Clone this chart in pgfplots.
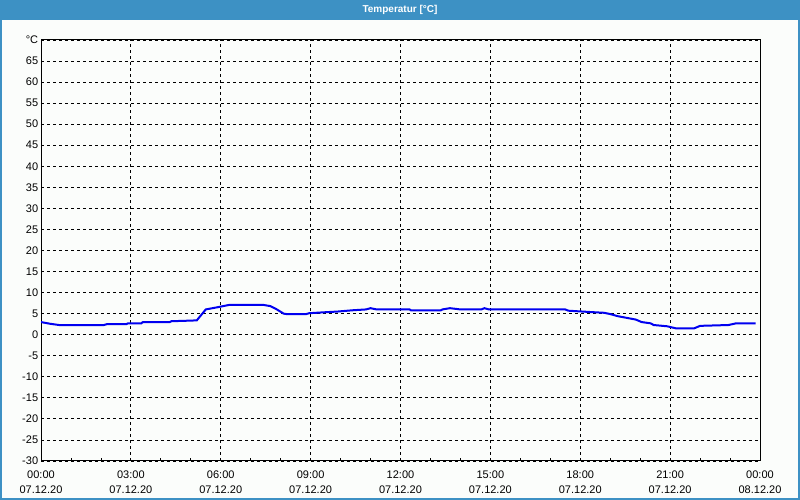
\documentclass[border=0pt]{standalone}
\usepackage{fontspec}
\setmainfont{Liberation Sans}
\usepackage{pgfplots}
\pgfplotsset{compat=1.18}
\definecolor{barblue}{RGB}{61,145,196}
\definecolor{bgc}{RGB}{251,253,251}
\definecolor{lineblue}{RGB}{0,0,240}
\begin{document}
\fontsize{11pt}{13pt}\selectfont
\begin{tikzpicture}[x=1pt,y=1pt]
\useasboundingbox (0,0) rectangle (800,500);
\fill[bgc] (0,0) rectangle (800,500);
\fill[barblue] (0,480) rectangle (800,500);
\draw[barblue,line width=2pt] (1,1) rectangle (799,499);
\node[white,font=\fontsize{10pt}{11pt}\selectfont\bfseries] at (400,490) {Temperatur [°C]};
\begin{axis}[
  at={(41pt,39pt)}, anchor=south west,
  scale only axis, width=719pt, height=421pt,
  xmin=0, xmax=24, ymin=-30, ymax=70,
  xtick={0,3,...,24},
  xticklabels={{00:00\\07.12.20},{03:00\\07.12.20},{06:00\\07.12.20},{09:00\\07.12.20},{12:00\\07.12.20},{15:00\\07.12.20},{18:00\\07.12.20},{21:00\\07.12.20},{00:00\\08.12.20}},
  xticklabel style={align=center, font=\fontsize{11pt}{15pt}\selectfont, yshift=-6pt},
  minor x tick num=2,
  xtick pos=bottom,
  tick align=inside,
  major tick length=0pt,
  minor tick length=3pt,
  ytick={-30,-25,...,70},
  yticklabels={-30,-25,-20,-15,-10,-5,0,5,10,15,20,25,30,35,40,45,50,55,60,65,°C},
  ytick pos=left,
  yticklabel style={xshift=1pt, font=\fontsize{11pt}{13pt}\selectfont},
  grid=major,
  major grid style={black, line width=0.8pt, dash pattern=on 3pt off 3pt},
  axis line style={black, line width=1pt},
  every tick/.style={black, line width=0.8pt},
  axis background/.style={fill=bgc},
]
\addplot[lineblue, line width=2pt] coordinates {
(0,3.0) (0.3,2.6) (0.6,2.3) (2.1,2.3) (2.2,2.5) (2.85,2.5) (2.9,2.7) (3.35,2.7) (3.4,3.0) (4.3,3.0) (4.35,3.2) (4.8,3.3) (5.2,3.4) (5.5,6.0) (5.95,6.6) (6.3,7.1) (7.4,7.1) (7.65,6.8) (7.85,6.1) (8.1,5.0) (8.2,4.9) (8.85,4.9) (8.95,5.1) (9.4,5.3) (9.9,5.5) (10.4,5.8) (10.85,6.0) (11.0,6.3) (11.2,6.0) (12.3,6.0) (12.35,5.8) (13.35,5.8) (13.4,6.0) (13.65,6.3) (14.0,6.0) (14.7,6.0) (14.8,6.3) (14.95,6.0) (17.5,6.0) (17.6,5.7) (18.3,5.4) (18.8,5.2) (19.0,4.9) (19.25,4.4) (19.55,4.0) (19.85,3.6) (20.05,3.0) (20.35,2.7) (20.45,2.3) (20.9,2.0) (21.2,1.5) (21.8,1.5) (22.0,2.1) (22.95,2.3) (23.2,2.7) (23.85,2.7)
};
\end{axis}
\end{tikzpicture}
\end{document}
